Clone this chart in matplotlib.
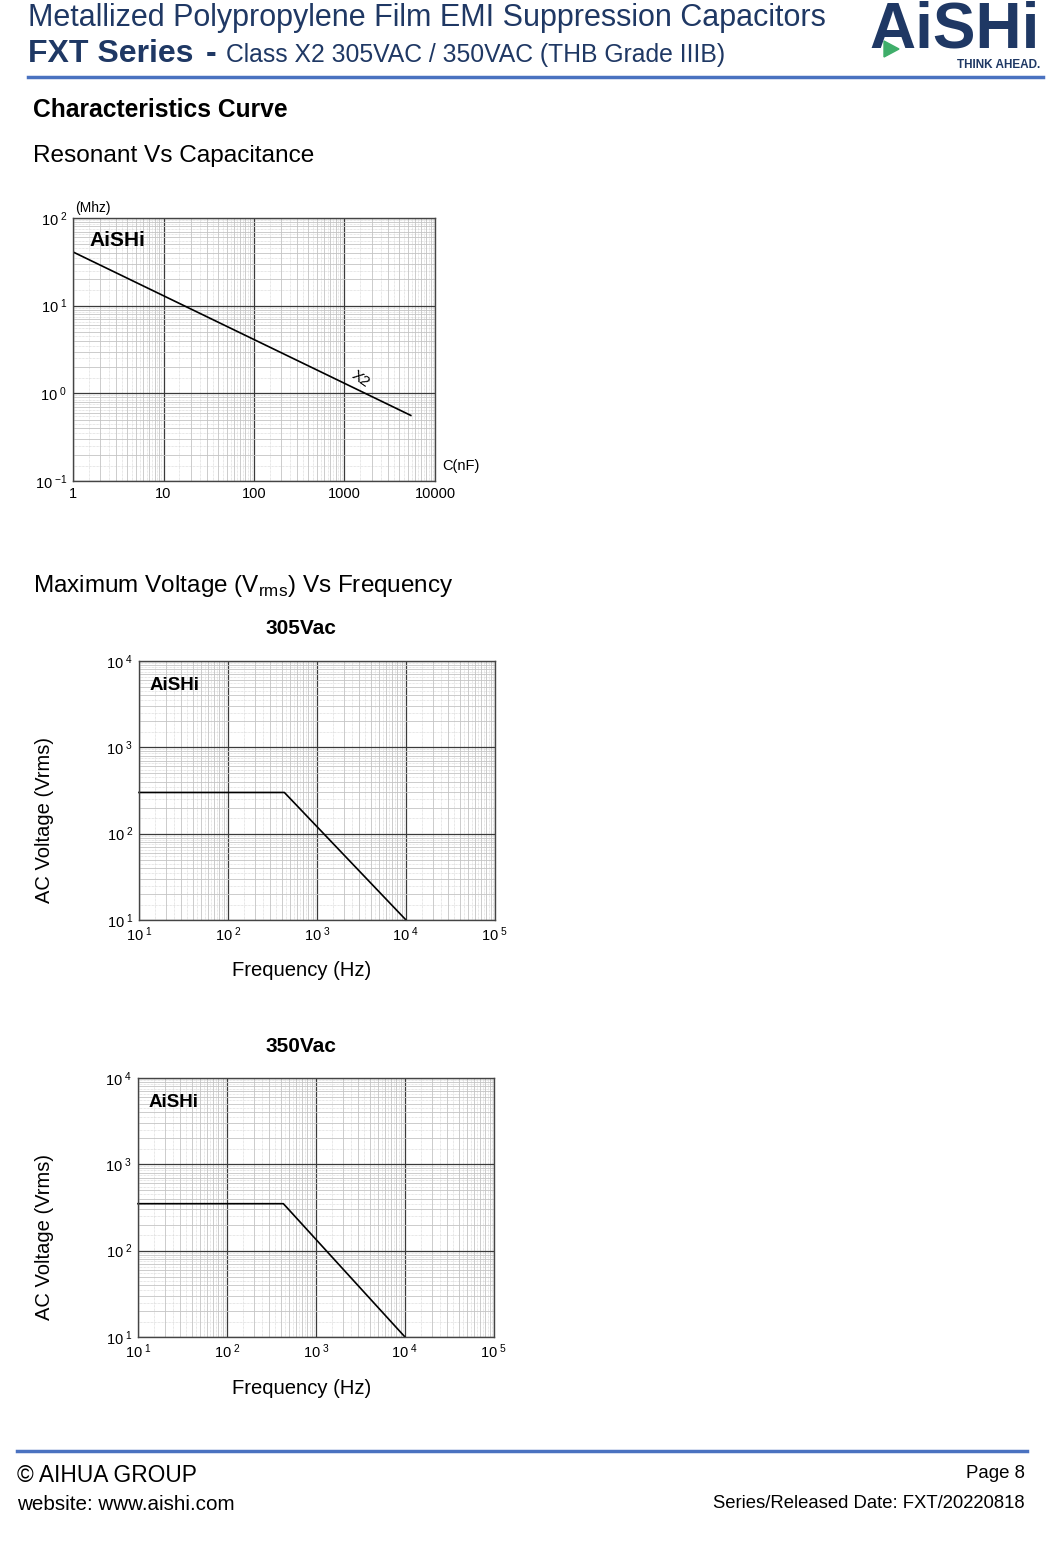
import numpy as np
import matplotlib
matplotlib.use("Agg")
import matplotlib.pyplot as plt
from matplotlib.ticker import LogLocator, FixedLocator, FuncFormatter, NullFormatter
from matplotlib.patches import Polygon

plt.rcParams['font.family'] = ['Liberation Sans', 'DejaVu Sans']
plt.rcParams['mathtext.fontset'] = 'custom'
plt.rcParams['mathtext.rm'] = 'Liberation Sans'

NAVY = "#1f3864"
BLUE = "#4a72c0"

# ---- data ----
cap_nf = [1, 5400]
res_mhz = [41, 0.56]

freq_305 = [10, 430, 10000]
volt_305 = [300, 300, 10]

freq_350 = [10, 430, 10000]
volt_350 = [350, 350, 10]

cap_ticks = [1, 10, 100, 1000, 10000]
cap_tick_labels = ["1", "10", "100", "1000", "10000"]
res_ticks = [0.1, 1, 10, 100]
freq_ticks = [1e1, 1e2, 1e3, 1e4, 1e5]
volt_ticks = [1e1, 1e2, 1e3, 1e4]

fig = plt.figure(figsize=(10.6, 15.53), dpi=100)


def pow_label(v, pos):
    e = int(round(np.log10(v)))
    if e < 0:
        return r'$\mathregular{10^{\ {-}%d}}$' % abs(e)
    return r'$\mathregular{10^{\ %d}}$' % e


def log_grid(ax):
    for axis in (ax.xaxis, ax.yaxis):
        axis.set_minor_locator(LogLocator(base=10, subs=np.arange(2, 10)))
        axis.set_minor_formatter(NullFormatter())
    ax.grid(which='major', color='#3a3a3a', lw=0.9)
    ax.grid(which='minor', color='#c4c4c4', lw=0.6)
    # finer dotted subdivisions between the minor lines
    x0, x1 = ax.get_xlim()
    y0, y1 = ax.get_ylim()
    halves = np.arange(1.5, 10, 1.0)
    for d in range(int(np.floor(np.log10(x0))), int(np.ceil(np.log10(x1)))):
        for v in halves * 10.0 ** d:
            if x0 < v < x1:
                ax.axvline(v, color='#d0d0d0', lw=0.5, ls=(0, (1, 1)), zorder=0)
    for d in range(int(np.floor(np.log10(y0))), int(np.ceil(np.log10(y1)))):
        for v in halves * 10.0 ** d:
            if y0 < v < y1:
                ax.axhline(v, color='#d0d0d0', lw=0.5, ls=(0, (1, 1)), zorder=0)
    ax.set_axisbelow(True)
    ax.tick_params(which='both', length=0)
    for s in ax.spines.values():
        s.set_color('#444444')
        s.set_linewidth(1.0)


# ---- header ----
fig.text(28 / 1060, 1 - 18 / 1553, "Metallized Polypropylene Film EMI Suppression Capacitors",
         fontsize=22, color=NAVY, va='center', ha='left')
fig.text(28 / 1060, 1 - 54 / 1553, "FXT Series", fontsize=23, fontweight='bold',
         color=NAVY, va='center', ha='left')
fig.text(206 / 1060, 1 - 54 / 1553, "-", fontsize=23, fontweight='bold',
         color=NAVY, va='center', ha='left')
fig.text(226 / 1060, 1 - 55 / 1553, "Class X2 305VAC / 350VAC (THB Grade IIIB)",
         fontsize=17.8, color=NAVY, va='center', ha='left')
fig.text(955 / 1060, 1 - 31 / 1553, "AiSHi", fontsize=46, fontweight='bold',
         color=NAVY, va='center', ha='center')
fig.text(1040 / 1060, 1 - 65 / 1553, "THINK AHEAD.", fontsize=8.5, fontweight='bold',
         color=NAVY, va='center', ha='right')
fig.add_artist(Polygon([[884 / 1060, 1 - 41 / 1553], [884 / 1060, 1 - 57 / 1553],
                        [899 / 1060, 1 - 49 / 1553]], closed=True,
                       transform=fig.transFigure, color='#3fae6a'))
fig.add_artist(plt.Line2D([28 / 1060, 1043 / 1060], [1 - 77 / 1553, 1 - 77 / 1553],
                          transform=fig.transFigure, color=BLUE, lw=2.5))

fig.text(33 / 1060, 1 - 110 / 1553, "Characteristics Curve", fontsize=17.7,
         fontweight='bold', va='center', ha='left')
fig.text(33 / 1060, 1 - 156 / 1553, "Resonant Vs Capacitance", fontsize=17.6,
         va='center', ha='left')
fig.text(33 / 1060, 1 - 586 / 1553, r"Maximum Voltage (V$_{\mathregular{rms}}$) Vs Frequency",
         fontsize=17.5, va='center', ha='left')

# ---- chart 1: resonant frequency vs capacitance ----
ax1 = fig.add_axes([73 / 1060, 1 - 481 / 1553, 362 / 1060, 263 / 1553])
ax1.set_xscale('log')
ax1.set_yscale('log')
ax1.set_xlim(1, 10000)
ax1.set_ylim(0.1, 100)
log_grid(ax1)
ax1.xaxis.set_major_locator(FixedLocator(cap_ticks))
ax1.set_xticklabels(cap_tick_labels)
ax1.yaxis.set_major_locator(FixedLocator(res_ticks))
ax1.yaxis.set_major_formatter(FuncFormatter(pow_label))
ax1.tick_params(axis='both', labelsize=10.5, pad=4)
ax1.plot(cap_nf, res_mhz, color='black', lw=1.2)
ax1.text(1500, 1.45, "X2", fontsize=11, rotation=-35, ha='center', va='center')
ax1.text(0.005, 1.01, "(Mhz)", transform=ax1.transAxes, fontsize=10, ha='left', va='bottom')
ax1.text(1.02, 0.03, "C(nF)", transform=ax1.transAxes, fontsize=10.5, ha='left', va='bottom')
ax1.text(0.045, 0.915, "AiSHi", transform=ax1.transAxes, fontsize=15, fontweight='bold',
         ha='left', va='center')

# ---- charts 2 & 3: max voltage vs frequency ----
panels = [
    ("305Vac", freq_305, volt_305, 661, 139, 628, 820, 971),
    ("350Vac", freq_350, volt_350, 1078, 138, 1046, 1237, 1389),
]
for title, f, v, top, left, ty, yly, xly in panels:
    ax = fig.add_axes([left / 1060, 1 - (top + 259) / 1553, 356 / 1060, 259 / 1553])
    ax.set_xscale('log')
    ax.set_yscale('log')
    ax.set_xlim(1e1, 1e5)
    ax.set_ylim(1e1, 1e4)
    log_grid(ax)
    ax.xaxis.set_major_locator(FixedLocator(freq_ticks))
    ax.xaxis.set_major_formatter(FuncFormatter(pow_label))
    ax.yaxis.set_major_locator(FixedLocator(volt_ticks))
    ax.yaxis.set_major_formatter(FuncFormatter(pow_label))
    ax.tick_params(axis='both', labelsize=10.5, pad=4)
    ax.plot(f, v, color='black', lw=1.2, clip_on=False)
    ax.text(0.03, 0.905, "AiSHi", transform=ax.transAxes, fontsize=13.5, fontweight='bold',
            ha='left', va='center')
    fig.text(301 / 1060, 1 - ty / 1553, title, fontsize=15, fontweight='bold',
             ha='center', va='center')
    fig.text(45 / 1060, 1 - yly / 1553, "AC Voltage (Vrms)", fontsize=14.5, rotation=90,
             ha='center', va='center')
    fig.text(302 / 1060, 1 - xly / 1553, "Frequency (Hz)", fontsize=14.6,
             ha='center', va='center')

# ---- footer ----
fig.add_artist(plt.Line2D([17 / 1060, 1027 / 1060], [1 - 1451 / 1553, 1 - 1451 / 1553],
                          transform=fig.transFigure, color=BLUE, lw=2.5))
fig.text(17 / 1060, 1 - 1476 / 1553, "\u00a9 AIHUA GROUP", fontsize=16.4, ha='left', va='center')
fig.text(17 / 1060, 1 - 1504 / 1553, "website: www.aishi.com", fontsize=14.9, ha='left', va='center')
fig.text(1025 / 1060, 1 - 1473 / 1553, "Page 8", fontsize=13.4, ha='right', va='center')
fig.text(1025 / 1060, 1 - 1503 / 1553, "Series/Released Date: FXT/20220818", fontsize=13.3,
         ha='right', va='center')

fig.savefig("out.png", dpi=100, facecolor='white')
